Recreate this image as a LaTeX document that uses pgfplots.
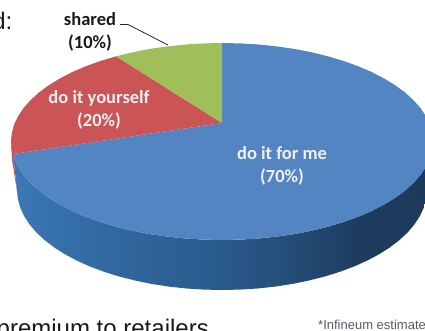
\documentclass[border=0pt]{standalone}
\usepackage{fontspec}
\setmainfont{Liberation Sans}
\newfontfamily\labelfont{Carlito}
\usepackage{pgfplots}
\pgfplotsset{compat=1.18}
\definecolor{sliceblue}{HTML}{5385C3}
\definecolor{slicered}{HTML}{CA5456}
\definecolor{slicegreen}{HTML}{A0BF5A}
\definecolor{notegrey}{HTML}{555B66}
\definecolor{rimA}{HTML}{3B78B5}
\definecolor{rimB}{HTML}{30689F}
\definecolor{rimC}{HTML}{2A5A8C}
\definecolor{rimD}{HTML}{254D78}
\definecolor{rimE}{HTML}{1E3C5F}
\definecolor{rimF}{HTML}{1D3A5A}
% Rim of the large slice, lit from the left and falling into shadow on the right
\pgfdeclarehorizontalshading{rimshade}{100bp}{
  color(0bp)=(rimA);
  color(25bp)=(rimA);
  color(37bp)=(rimB);
  color(50bp)=(rimC);
  color(58bp)=(rimD);
  color(66bp)=(rimE);
  color(75bp)=(rimF);
  color(100bp)=(rimF)}
\begin{document}
\begin{tikzpicture}
\path[use as bounding box] (0,0) rectangle (425bp,331bp);
\clip (0,0) rectangle (425bp,331bp);
\begin{axis}[
  at={(0,0)}, anchor=south west,
  scale only axis, width=425bp, height=331bp,
  xmin=0, xmax=425, ymin=0, ymax=331, y dir=reverse,
  hide axis, clip=true]
% edge of the 20% slice, visible as a sliver at the far left
\addplot[fill=slicered, draw=none] coordinates {
  (11,141.5) (13,154) (17.5,195) (16,185) (12,160)} -- cycle;
% rim below the 70% slice
\addplot[shading=rimshade, draw=none] coordinates {
  (433,141.5) (432.2,150.1) (429.8,158.6) (425.8,167) (420.3,175.2) (413.2,183.1)
  (404.7,190.8) (394.9,198) (383.6,204.8) (371.2,211.2) (357.6,217) (343,222.2)
  (327.5,226.8) (311.2,230.8) (294.2,234.1) (276.6,236.6) (258.6,238.5) (240.4,239.6)
  (222,240) (203.6,239.6) (185.4,238.5) (167.4,236.6) (149.8,234.1) (132.8,230.8)
  (116.5,226.8) (101,222.2) (86.4,217) (72.8,211.2) (60.4,204.8) (49.1,198)
  (39.3,190.8) (30.8,183.1) (23.7,175.2) (18.2,167) (14.2,158.6) (13,154)
  (17,190) (17.8,198.7) (20.1,207.4) (24,215.9) (29.4,224.2) (36.2,232.3)
  (44.5,240) (54.1,247.4) (65,254.3) (77,260.7) (90.2,266.6) (104.4,271.9)
  (119.5,276.6) (135.4,280.6) (151.9,284) (168.9,286.6) (186.4,288.5) (204.1,289.6)
  (222,290) (239.9,289.6) (257.6,288.5) (275.1,286.6) (292.1,284) (308.6,280.6)
  (324.5,276.6) (339.6,271.9) (353.8,266.6) (367,260.7) (379,254.3) (389.9,247.4)
  (399.5,240) (407.8,232.3) (414.6,224.2) (420,215.9) (423.9,207.4) (426.2,198.7)
  (427,190)} -- cycle;
% do it for me: 70%
\addplot[fill=sliceblue, draw=none] coordinates {
  (222,123) (222,43) (240.4,43.4) (258.6,44.5) (276.6,46.4) (294.2,48.9) (311.2,52.2)
  (327.5,56.2) (343,60.8) (357.6,66) (371.2,71.8) (383.6,78.2) (394.9,85) (404.7,92.2)
  (413.2,99.9) (420.3,107.8) (425.8,116) (429.8,124.4) (432.2,132.9) (433,141.5)
  (432.2,150.1) (429.8,158.6) (425.8,167) (420.3,175.2) (413.2,183.1) (404.7,190.8)
  (394.9,198) (383.6,204.8) (371.2,211.2) (357.6,217) (343,222.2) (327.5,226.8)
  (311.2,230.8) (294.2,234.1) (276.6,236.6) (258.6,238.5) (240.4,239.6) (222,240)
  (203.6,239.6) (185.4,238.5) (167.4,236.6) (149.8,234.1) (132.8,230.8) (116.5,226.8)
  (101,222.2) (86.4,217) (72.8,211.2) (60.4,204.8) (49.1,198) (39.3,190.8) (30.8,183.1)
  (23.7,175.2) (18.2,167) (14.2,158.6) (13,154)} -- cycle;
% do it yourself: 20%
\addplot[fill=slicered, draw=none] coordinates {
  (222,123) (13,154) (11.8,150.1) (11,141.5) (11.8,132.9) (14.2,124.4) (18.2,116)
  (23.7,107.8) (30.8,99.9) (39.3,92.2) (49.1,85) (60.4,78.2) (72.8,71.8) (86.4,66)
  (101,60.8) (116,56.3)} -- cycle;
% shared: 10%
\addplot[fill=slicegreen, draw=none] coordinates {
  (222,123) (116,56.3) (132.8,52.2) (149.8,48.9) (167.4,46.4) (185.4,44.5) (203.6,43.4)
  (222,43)} -- cycle;
% leader line of the shared slice
\addplot[draw=black!85, line width=0.8bp] coordinates {(120,24.5) (128,24.5) (168,45)};
% slice labels
\node[text=white!94!black, font=\labelfont\bfseries\fontsize{18.5bp}{23bp}\selectfont, align=center]
  at (axis cs:282,166) {do it for me\\(70\%)};
\node[text=white!94!black, font=\labelfont\bfseries\fontsize{18.5bp}{23bp}\selectfont, align=center]
  at (axis cs:99,110) {do it yourself\\(20\%)};
\node[text=black!90, font=\labelfont\bfseries\fontsize{18.5bp}{23bp}\selectfont, align=center]
  at (axis cs:90,32) {shared\\(10\%)};
% surrounding slide text, cut off by the picture's edges
\node[anchor=base east, inner sep=0pt, text=black!90, font=\fontsize{24bp}{24bp}\selectfont]
  at (axis cs:12.5,30) {d:};
\node[anchor=base east, inner sep=0pt, text=black!90, font=\fontsize{24bp}{24bp}\selectfont]
  at (axis cs:209,336) {premium to retailers};
\node[anchor=base west, inner sep=0pt, text=notegrey, font=\fontsize{13bp}{13bp}\selectfont]
  at (axis cs:318,329) {*Infineum estimates};
\end{axis}
\end{tikzpicture}
\end{document}
